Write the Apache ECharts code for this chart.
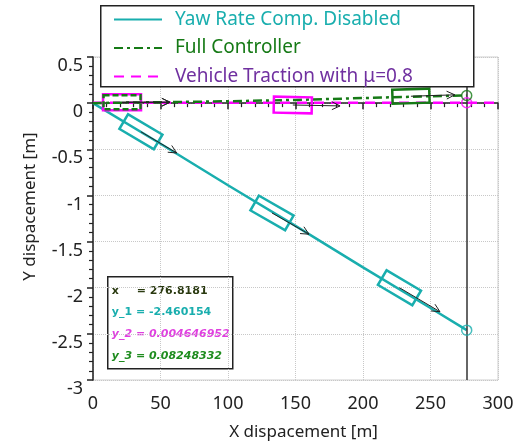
<!DOCTYPE html>
<html><head><meta charset="utf-8">
<script src="https://cdn.jsdelivr.net/npm/echarts@6/dist/echarts.min.js"></script>
<style>html,body{margin:0;padding:0;background:#fff}#c{width:513px;height:446px}</style>
</head><body><div id="c"></div>
<script>
// ---- data ----
const seriesNames = ['Yaw Rate Comp. Disabled', 'Full Controller', 'Vehicle Traction with \u03bc=0.8'];
const yawX = [0, 50, 100, 150, 200, 250, 276.8181];
const yawY = [0, -0.44, -0.89, -1.33, -1.78, -2.22, -2.460154];
const fullX = [0, 20, 100, 150, 200, 250, 276.8181];
const fullY = [0, 0.005, 0.02, 0.035, 0.055, 0.075, 0.08248332];
const tracX = [0, 100, 200, 276.8181, 300];
const tracY = [0.0046, 0.0046, 0.0046, 0.004646952, 0.0046];
const cursorX = 276.8181;
const cursorY = [-2.460154, 0.004646952, 0.08248332];
// vehicles: [centerX, centerY, arrowTipX, arrowTipY]
const yawCars = [[35.5, -0.31, 62, -0.54], [132.6, -1.19, 160, -1.42], [227, -2.0, 257, -2.26]];
const tracCars = [[21.5, 0.01, 57, 0.01], [148, -0.02, 183, -0.03]];
const fullCarsDashed = [[21.5, 0.01, 57, 0.01]];
const fullCars = [[235.5, 0.075, 268, 0.09]];
const xTicks = {min: 0, max: 300, interval: 50};
const yTicks = {min: -3, max: 0.5, interval: 0.5};

const TEAL = '#19AEAE', GREEN = '#167A16', MAG = '#FF00FF', PURPLE = '#7030A0';
const zip = (a, b) => a.map((v, i) => [v, b[i]]);

function carSeries(data, color, w, h, dash) {
  return {
    type: 'custom', z: 5, silent: true, data: data,
    renderItem: function (params, api) {
      const c = api.coord([api.value(0), api.value(1)]);
      const t = api.coord([api.value(2), api.value(3)]);
      const ang = Math.atan2(t[1] - c[1], t[0] - c[0]);
      const hl = 9, ha = 0.45;
      return {
        type: 'group', children: [
          {type: 'rect', x: c[0], y: c[1], rotation: -ang,
           shape: {x: -w / 2, y: -h / 2, width: w, height: h},
           style: {fill: null, stroke: color, lineWidth: 2.5, lineDash: dash || null}},
          {type: 'line', shape: {x1: c[0], y1: c[1], x2: t[0], y2: t[1]},
           style: {stroke: '#222', lineWidth: 1}},
          {type: 'polyline', shape: {points: [
            [t[0] - hl * Math.cos(ang - ha), t[1] - hl * Math.sin(ang - ha)],
            [t[0], t[1]],
            [t[0] - hl * Math.cos(ang + ha), t[1] - hl * Math.sin(ang + ha)]]},
           style: {stroke: '#222', lineWidth: 1, fill: null}}
        ]
      };
    }
  };
}
function endCircle(pt, color) {
  return {type: 'scatter', z: 6, silent: true, symbol: 'circle', symbolSize: 10, data: [pt],
    itemStyle: {color: 'rgba(0,0,0,0)', borderColor: color, borderWidth: 1.5}};
}

const chart = echarts.init(document.getElementById('c'), null, {renderer: 'canvas'});
const FONT = 'Noto Sans';
chart.setOption({
  animation: false,
  textStyle: {fontFamily: FONT},
  grid: {left: 93, right: 15, top: 57, bottom: 66, show: true, borderColor: '#cfcfcf', borderWidth: 1,
         containLabel: false, outerBoundsMode: 'none'},
  xAxis: {
    type: 'value', min: xTicks.min, max: xTicks.max, interval: xTicks.interval,
    name: 'X dispacement [m]', nameLocation: 'middle', nameGap: 44,
    nameTextStyle: {fontSize: 17, color: '#222', fontFamily: FONT, padding: [0, 0, 0, 16]},
    axisLine: {lineStyle: {color: '#222', width: 1.5}},
    axisTick: {show: true, inside: false, length: 6, lineStyle: {color: '#222', width: 1.5}},
    minorTick: {show: true, splitNumber: 5, length: 4, lineStyle: {color: '#222', width: 1.2}},
    axisLabel: {fontSize: 18, color: '#222', margin: 15, fontFamily: FONT},
    splitLine: {show: true, lineStyle: {color: '#c8c8c8', type: 'dotted', width: 1}}
  },
  yAxis: {
    type: 'value', min: yTicks.min, max: yTicks.max, interval: yTicks.interval,
    name: 'Y dispacement [m]', nameLocation: 'middle', nameGap: 54, nameRotate: 90,
    nameTextStyle: {fontSize: 17, color: '#222', fontFamily: FONT, padding: [0, 0, 0, 24]},
    axisLine: {show: true, lineStyle: {color: '#222', width: 1.5}},
    axisTick: {show: true, inside: false, length: 6, lineStyle: {color: '#222', width: 1.5}},
    minorTick: {show: true, splitNumber: 5, length: 4, lineStyle: {color: '#222', width: 1.2}},
    axisLabel: {fontSize: 18, color: '#222', margin: 10, verticalAlign: 'top', fontFamily: FONT},
    splitLine: {show: true, lineStyle: {color: '#c8c8c8', type: 'dotted', width: 1}}
  },
  legend: {
    orient: 'vertical', left: 108, top: 5, z: 10,
    itemWidth: 48, itemHeight: 18, itemGap: 9.5,
    itemStyle: {color: 'rgba(0,0,0,0)', borderColor: 'rgba(0,0,0,0)', opacity: 0},
    textStyle: {fontSize: 19, fontFamily: FONT, padding: [0, 0, 0, 8], lineHeight: 18},
    data: [
      {name: seriesNames[0], textStyle: {color: TEAL}},
      {name: seriesNames[1], textStyle: {color: GREEN}},
      {name: seriesNames[2], textStyle: {color: PURPLE}}
    ]
  },
  graphic: [
    {type: 'rect', z: 8, left: 100, top: 5, shape: {width: 373, height: 81},
     style: {fill: '#fff', stroke: '#222', lineWidth: 1.5}},
    {type: 'group', left: 107, top: 276, z: 8, children: [
      {type: 'rect', shape: {x: 0, y: 0, width: 125, height: 92}, style: {fill: '#fff', stroke: '#222', lineWidth: 1.5}},
      {type: 'text', x: 4, y: 9, style: {text: 'x', font: 'bold 11px DejaVu Sans', fill: '#2a3a10'}},
      {type: 'text', x: 29, y: 9, style: {text: '= ' + cursorX.toFixed(4), font: 'bold 11px DejaVu Sans', fill: '#2a3a10'}},
      {type: 'text', x: 4, y: 30, style: {text: 'y_1 = ' + cursorY[0], font: 'bold 11px DejaVu Sans', fill: TEAL}},
      {type: 'text', x: 4, y: 52, style: {text: 'y_2 = ' + cursorY[1], font: 'italic bold 11px DejaVu Sans', fill: '#E040E0'}},
      {type: 'text', x: 4, y: 74, style: {text: 'y_3 = ' + cursorY[2], font: 'italic bold 11px DejaVu Sans', fill: '#1E8C1E'}}
    ]}
  ],
  series: [
    {name: seriesNames[0], type: 'line', data: zip(yawX, yawY), symbol: 'none', z: 3,
     lineStyle: {color: TEAL, width: 2.5}, itemStyle: {color: TEAL},
     markLine: {silent: true, symbol: 'none', label: {show: false},
       lineStyle: {color: '#333', width: 1.5, type: 'solid'}, data: [{xAxis: cursorX}]}},
    {name: seriesNames[1], type: 'line', data: zip(fullX, fullY), symbol: 'none', z: 3,
     lineStyle: {color: GREEN, width: 2.5, type: [9, 4, 3, 4]}, itemStyle: {color: GREEN}},
    {name: seriesNames[2], type: 'line', data: zip(tracX, tracY), symbol: 'none', z: 2,
     lineStyle: {color: MAG, width: 2.5, type: [10, 7]}, itemStyle: {color: MAG}},
    carSeries(yawCars, TEAL, 40, 17),
    carSeries(tracCars, MAG, 38, 16),
    carSeries(fullCarsDashed, GREEN, 37, 14, [6, 3]),
    carSeries(fullCars, GREEN, 37, 14),
    endCircle([cursorX, cursorY[0]], TEAL),
    endCircle([cursorX, cursorY[1]], MAG),
    endCircle([cursorX, cursorY[2]], GREEN)
  ]
});
</script></body></html>
